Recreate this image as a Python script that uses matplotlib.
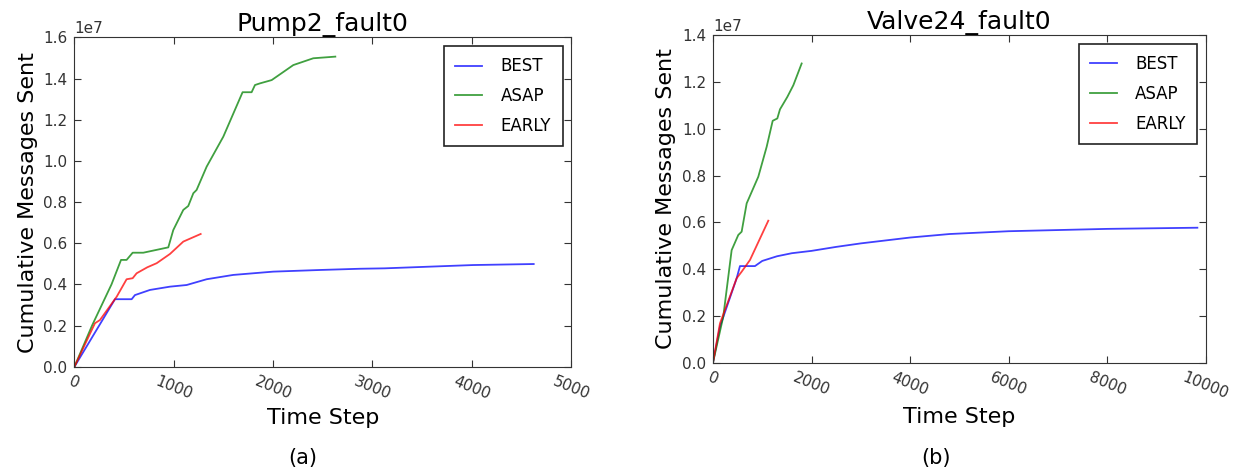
import matplotlib
matplotlib.use("Agg")
import matplotlib.pyplot as plt

# Pump2_fault0
pump_best_x = [0, 408, 576, 609, 760, 962, 1130, 1331, 1599, 2002, 2472, 2875, 3123, 4013, 4625]
pump_best_y = [0, 0.328, 0.328, 0.348, 0.373, 0.389, 0.397, 0.425, 0.446, 0.462, 0.470, 0.476, 0.478, 0.494, 0.499]
pump_asap_x = [0, 177, 373, 469, 525, 586, 693, 945, 995, 1096, 1146, 1197, 1230, 1331, 1499, 1693,
               1784, 1818, 1868, 1986, 2204, 2405, 2627]
pump_asap_y = [0, 0.20, 0.40, 0.519, 0.519, 0.554, 0.554, 0.580, 0.664, 0.762, 0.781, 0.843, 0.859, 0.972,
               1.118, 1.334, 1.334, 1.369, 1.377, 1.393, 1.466, 1.499, 1.507]
pump_early_x = [0, 206, 257, 425, 525, 586, 626, 733, 828, 962, 1096, 1271]
pump_early_y = [0, 0.211, 0.227, 0.340, 0.425, 0.430, 0.454, 0.483, 0.503, 0.548, 0.608, 0.645]

# Valve24_fault0
valve_best_x = [0, 142, 481, 548, 852, 1000, 1300, 1600, 2000, 2500, 3000, 4000, 4800, 6000, 8000, 9830]
valve_best_y = [0, 0.154, 0.361, 0.413, 0.413, 0.435, 0.455, 0.468, 0.478, 0.495, 0.510, 0.535, 0.550,
                0.562, 0.572, 0.577]
valve_asap_x = [0, 209, 379, 514, 582, 684, 920, 1090, 1212, 1306, 1360, 1509, 1631, 1800]
valve_asap_y = [0, 0.197, 0.481, 0.546, 0.560, 0.681, 0.795, 0.923, 1.034, 1.044, 1.083, 1.136, 1.186, 1.279]
valve_early_x = [0, 142, 481, 582, 751, 1123]
valve_early_y = [0, 0.168, 0.361, 0.389, 0.439, 0.607]

plt.rcParams['font.family'] = ['DejaVu Sans']
plt.rcParams['xtick.direction'] = 'in'
plt.rcParams['ytick.direction'] = 'in'
plt.rcParams['xtick.top'] = True
plt.rcParams['ytick.right'] = True
plt.rcParams['xtick.major.size'] = 5
plt.rcParams['ytick.major.size'] = 5
plt.rcParams['xtick.color'] = '#333333'
plt.rcParams['ytick.color'] = '#333333'
plt.rcParams['axes.edgecolor'] = '#333333'


def draw(ax, title, best, asap, early, xmax, ymax, xstep):
    ax.plot(best[0], [v * 1e7 for v in best[1]], color='b', alpha=0.75, lw=1.3, label='BEST')
    ax.plot(asap[0], [v * 1e7 for v in asap[1]], color='g', alpha=0.75, lw=1.3, label='ASAP')
    ax.plot(early[0], [v * 1e7 for v in early[1]], color='r', alpha=0.75, lw=1.3, label='EARLY')
    ax.set_xlim(0, xmax)
    ax.set_ylim(0, ymax)
    ax.set_xticks(range(0, xmax + 1, xstep))
    ax.set_yticks([i * 0.2e7 for i in range(int(round(ymax / 0.2e7)) + 1)])
    ax.ticklabel_format(axis='y', style='sci', scilimits=(0, 0))
    ax.yaxis.get_offset_text().set_fontsize(11)
    ax.tick_params(labelsize=11, pad=5)
    for lbl in ax.get_xticklabels():
        lbl.set_rotation(-22)
    ax.set_title(title, fontsize=18, pad=4)
    ax.set_xlabel('Time Step', fontsize=16)
    ax.set_ylabel('Cumulative Messages Sent', fontsize=16, labelpad=4)
    leg = ax.legend(loc='upper right', fontsize=12, fancybox=False, framealpha=1,
                    edgecolor='#222222', handlelength=1.6, handletextpad=1.1,
                    borderpad=0.7, labelspacing=0.7)
    leg.get_frame().set_linewidth(1.2)


fig = plt.figure(figsize=(12.35, 4.74), dpi=100)
ax1 = fig.add_axes([0.0603, 0.2264, 0.402, 0.6945])
ax2 = fig.add_axes([0.5773, 0.2348, 0.399, 0.691])

draw(ax1, 'Pump2_fault0', (pump_best_x, pump_best_y), (pump_asap_x, pump_asap_y),
     (pump_early_x, pump_early_y), 5000, 1.6e7, 1000)
draw(ax2, 'Valve24_fault0', (valve_best_x, valve_best_y), (valve_asap_x, valve_asap_y),
     (valve_early_x, valve_early_y), 10000, 1.4e7, 2000)

fig.text(303 / 1235, 1 - 458 / 474, '(a)', fontsize=15, ha='center', va='center')
fig.text(936 / 1235, 1 - 458 / 474, '(b)', fontsize=15, ha='center', va='center')

fig.savefig('out.png', dpi=100)
